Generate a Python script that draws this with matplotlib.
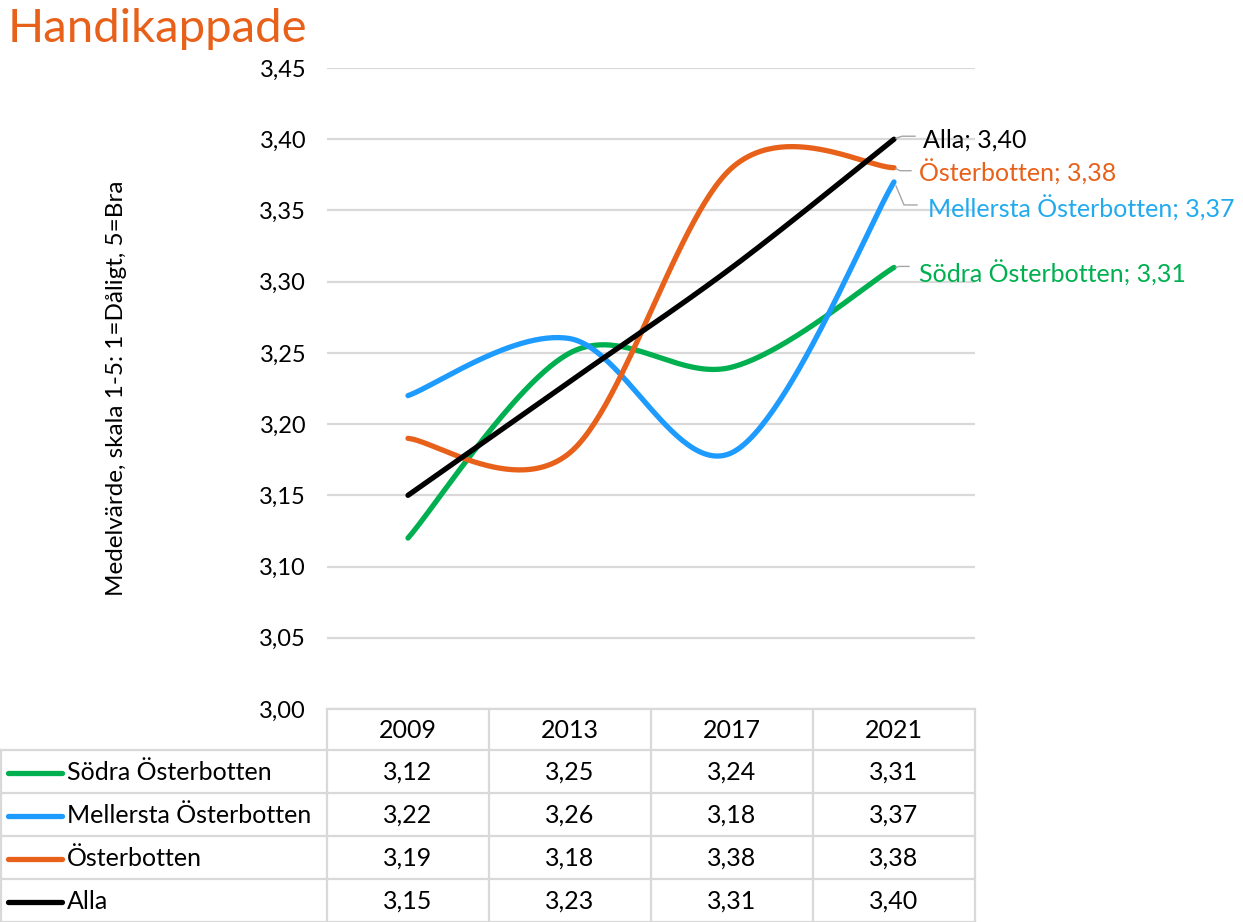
import numpy as np
import matplotlib
matplotlib.use("Agg")
import matplotlib.pyplot as plt

plt.rcParams['font.family'] = ['Lato', 'DejaVu Sans']

# ---- data ----
title = "Handikappade"
ylabel = "Medelvärde, skala 1-5: 1=Dåligt, 5=Bra"
years = ["2009", "2013", "2017", "2021"]
series_names = ["Södra Österbotten", "Mellersta Österbotten", "Österbotten", "Alla"]
sodra = [3.12, 3.25, 3.24, 3.31]
mellersta = [3.22, 3.26, 3.18, 3.37]
osterbotten = [3.19, 3.18, 3.38, 3.38]
alla = [3.15, 3.23, 3.31, 3.40]
yticks = [3.00, 3.05, 3.10, 3.15, 3.20, 3.25, 3.30, 3.35, 3.40, 3.45]

colors = ["#00B050", "#1E9BFF", "#E8611A", "#000000"]
label_colors = ["#00B050", "#22AAEE", "#E8611A", "#000000"]
values = [sodra, mellersta, osterbotten, alla]

W, H = 1243, 922
fig = plt.figure(figsize=(W / 100, H / 100), dpi=100)

# plot area in pixel layout
L, R, T, B = 327, 975, 68, 709
ax = fig.add_axes([L / W, 1 - B / H, (R - L) / W, (B - T) / H], zorder=1)
ax.set_xlim(-0.5, len(years) - 0.5)
ax.set_ylim(3.0, 3.45)
for s in ax.spines.values():
    s.set_visible(False)
ax.set_xticks([])
ax.set_yticks(yticks)
ax.set_yticklabels([f"{v:.2f}".replace(".", ",") for v in yticks], fontsize=17)
ax.tick_params(axis='y', length=0, pad=15)
ax.grid(axis='y', color='#D9D9D9', lw=1.6)
ax.set_axisbelow(True)
ax.patch.set_alpha(0)


def smooth(y, n=60):
    x = np.arange(len(y), dtype=float)
    y = np.asarray(y, dtype=float)
    px = np.concatenate([[x[0]], x, [x[-1]]])
    py = np.concatenate([[y[0]], y, [y[-1]]])
    xs, ys = [], []
    t = np.linspace(0, 1, n)
    for i in range(len(x) - 1):
        p0 = np.array([px[i + 1], py[i + 1]])
        p3 = np.array([px[i + 2], py[i + 2]])
        p1 = p0 + (np.array([px[i + 2], py[i + 2]]) - np.array([px[i], py[i]])) / 6
        p2 = p3 - (np.array([px[i + 3], py[i + 3]]) - np.array([px[i + 1], py[i + 1]])) / 6
        b = ((1 - t) ** 3)[:, None] * p0 + (3 * (1 - t) ** 2 * t)[:, None] * p1 + \
            (3 * (1 - t) * t ** 2)[:, None] * p2 + (t ** 3)[:, None] * p3
        xs.append(b[:, 0]); ys.append(b[:, 1])
    return np.concatenate(xs), np.concatenate(ys)


for vals, c in zip(values, colors):
    xs, ys = smooth(vals)
    ax.plot(xs, ys, color=c, lw=3.8, solid_capstyle='round', zorder=3)

ax.set_ylabel(ylabel, fontsize=17.5)
ax.yaxis.set_label_coords((127 - L) / (R - L), 0.5)

# overlay for table / title / labels in pixel coords (above the plot axes)
ov = fig.add_axes([0, 0, 1, 1], zorder=2)
ov.set_xlim(0, W)
ov.set_ylim(H, 0)
ov.axis('off')
ov.patch.set_alpha(0)

fig.text(8 / W, 1 - 29 / H, title, color="#E8611A", fontsize=34, va='center', ha='left')

# end labels with leader lines
fig.canvas.draw()
lab_layout = {
    # series index: (leader points offsets in px relative to end, text x, text y)
    3: ([(2, -1), (8, -3), (21, -3)], 923, 140),
    2: ([(2, 1), (6, 3), (17, 3)], 919, 172),
    1: ([(2, 4), (10, 23), (23, 23)], 928, 208),
    0: ([(2, 0), (5, -1), (15, -1)], 919, 273),
}
for i, (pts, tx, ty) in lab_layout.items():
    last = values[i][-1]
    dx, dy = ax.transData.transform((len(years) - 1, last))
    ex, ey = dx, H - dy
    ov.plot([ex + p[0] for p in pts], [ey + p[1] for p in pts], color="#A6A6A6", lw=1.0, zorder=1)
    ov.text(tx, ty, f"{series_names[i]}; {last:.2f}".replace(".", ","), color=label_colors[i],
            fontsize=18, va='center', ha='left')

# table
col_w = (R - L) / len(years)
row_tops = [709, 750, 793, 836, 879, 922]
gc = "#D9D9D9"
ov.plot([L, R], [row_tops[0], row_tops[0]], color=gc, lw=1.6)
for y in row_tops[1:]:
    ov.plot([0, R], [y, y], color=gc, lw=1.6)
ov.plot([1, 1], [row_tops[1], row_tops[-1]], color=gc, lw=1.6)
for j in range(len(years) + 1):
    x = L + j * col_w
    ov.plot([x, x], [row_tops[0], row_tops[-1]], color=gc, lw=1.6)

for j, yr in enumerate(years):
    cx = L + (j + 0.5) * col_w
    ov.text(cx, (row_tops[0] + row_tops[1]) / 2 + 1, yr, ha='center', va='center', fontsize=18)
for i, (name, vals, c) in enumerate(zip(series_names, values, colors)):
    cy = (row_tops[i + 1] + row_tops[i + 2]) / 2 + 1
    ov.plot([8, 62], [cy, cy], color=c, lw=3.8, solid_capstyle='round')
    ov.text(67, cy, name, ha='left', va='center', fontsize=18)
    for j, v in enumerate(vals):
        cx = L + (j + 0.5) * col_w
        ov.text(cx, cy, f"{v:.2f}".replace(".", ","), ha='center', va='center', fontsize=18)

fig.savefig("out.png", dpi=100)
